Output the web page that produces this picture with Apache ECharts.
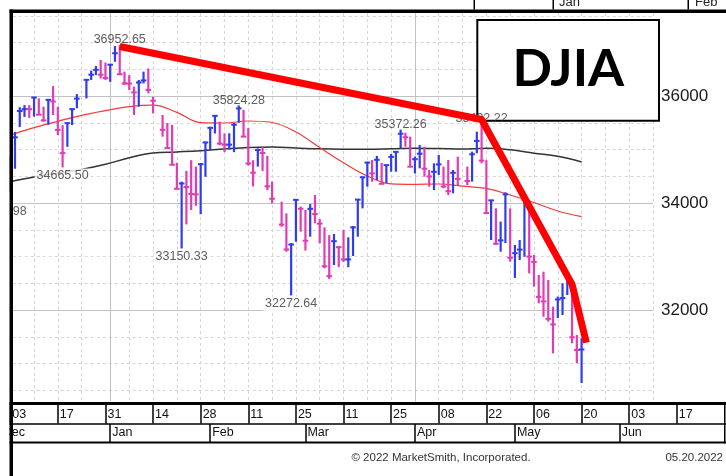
<!DOCTYPE html>
<html><head><meta charset="utf-8">
<script src="https://cdn.jsdelivr.net/npm/echarts@6/dist/echarts.min.js"></script>
<style>html,body{margin:0;padding:0;background:#fff}#c{width:726px;height:476px}</style>
</head><body><div id="c"></div>
<script>
// ---------- DATA ----------
const tradeDates = [
 '2021-12-01','2021-12-02','2021-12-03','2021-12-06','2021-12-07','2021-12-08','2021-12-09','2021-12-10','2021-12-13','2021-12-14','2021-12-15','2021-12-16','2021-12-17','2021-12-20','2021-12-21','2021-12-22','2021-12-23','2021-12-27','2021-12-28','2021-12-29','2021-12-30','2021-12-31',
 '2022-01-03','2022-01-04','2022-01-05','2022-01-06','2022-01-07','2022-01-10','2022-01-11','2022-01-12','2022-01-13','2022-01-14','2022-01-18','2022-01-19','2022-01-20','2022-01-21','2022-01-24','2022-01-25','2022-01-26','2022-01-27','2022-01-28','2022-01-31',
 '2022-02-01','2022-02-02','2022-02-03','2022-02-04','2022-02-07','2022-02-08','2022-02-09','2022-02-10','2022-02-11','2022-02-14','2022-02-15','2022-02-16','2022-02-17','2022-02-18','2022-02-22','2022-02-23','2022-02-24','2022-02-25','2022-02-28',
 '2022-03-01','2022-03-02','2022-03-03','2022-03-04','2022-03-07','2022-03-08','2022-03-09','2022-03-10','2022-03-11','2022-03-14','2022-03-15','2022-03-16','2022-03-17','2022-03-18','2022-03-21','2022-03-22','2022-03-23','2022-03-24','2022-03-25','2022-03-28','2022-03-29','2022-03-30','2022-03-31',
 '2022-04-01','2022-04-04','2022-04-05','2022-04-06','2022-04-07','2022-04-08','2022-04-11','2022-04-12','2022-04-13','2022-04-14','2022-04-18','2022-04-19','2022-04-20','2022-04-21','2022-04-22','2022-04-25','2022-04-26','2022-04-27','2022-04-28','2022-04-29',
 '2022-05-02','2022-05-03','2022-05-04','2022-05-05','2022-05-06','2022-05-09','2022-05-10','2022-05-11','2022-05-12','2022-05-13','2022-05-16','2022-05-17','2022-05-18','2022-05-19','2022-05-20'
];
const highs = [
 34950,34700,34850,35330,35790,35830,35830,35985,35955,35800,35945,36185,35800,35455,35500,35770,36035,36310,36475,36560,36675,36625,
 36595,36935,36952.65,36455,36390,36175,36300,36455,36515,35985,35645,35495,35460,34750,34400,34600,34800,34680,34745,35146,
 35426,35645,35520,35300,35303,35500,35824.28,35740,35400,34800,35020,35050,34880,34400,34025,33807,33250,34075,33935,
 33870,33980,34150,33700,33545,33400,33420,33196,33495,33358,33570,34070,34490,34772,34804,34879,34748,34710,34916,34960,35372.26,35314,35240,
 34866,35084,35052,34617,34742,34897,34680,34804,34617,34866,34680,34960,35333,35492.22,34800,34056,33900,33651,34200,33900,
 33215,33308,34118,34056,33028,32654,32716,32561,32062,32250,32500,32660,32500,31533,31470
];
const lows = [
 34006.98,34020,34220,34640,35420,35610,35590,35615,35645,35520,35460,35645,35270,34665.50,35050,35455,35770,35955,36300,36390,36330,36300,
 36265,36640,36395,36205,36110,35645,35800,36235,36050,35675,35240,35025,34710,34260,33150.33,33600,33870,33950,33790,34490,
 34990,35300,35080,34950,35000,34950,35500,35240,34700,34310,34680,34600,34243,33995,33557,33090,32272.64,33277,33465,
 33110,33370,33620,33246,32780,32580,32840,32800,32900,32800,33010,33370,33900,34305,34398,34430,34355,34374,34585,34585,35022,35052,34670,
 34554,34648,34492,34305,34243,34523,34275,34150,34181,34336,34336,34399,34929,34742,33807,33308,33215,33090,33250,32903,
 32600,32935,32997,32685,32437,32125,31875,31782,31190,31850,31907,32280,31378,31004,30635.76
];
const closes = [
 34022.04,34639.79,34580.08,35227.03,35719.43,35754.75,35754.69,35970.99,35650.95,35544.18,35927.43,35897.64,35365.44,34932.16,35492.70,35753.89,35950.56,36302.38,36398.21,36488.63,36398.08,36338.30,
 36585.06,36799.65,36407.11,36236.47,36231.66,36068.87,36252.02,36290.32,36113.62,35911.81,35368.47,35028.65,34715.39,34265.37,34364.50,34297.73,34168.09,34160.78,34725.47,35131.86,
 35405.24,35629.33,35111.16,35089.74,35091.13,35462.78,35768.06,35241.59,34738.06,34566.17,34988.84,34934.27,34312.03,34079.18,33596.61,33131.76,33223.83,34058.75,33892.60,
 33294.95,33891.35,33794.66,33614.80,32817.38,32632.64,33286.25,33174.07,32944.19,32945.24,33544.34,34063.10,34480.76,34754.93,34552.99,34807.46,34358.50,34707.94,34861.24,34955.89,35294.19,35228.81,34678.35,
 34818.27,34921.88,34641.18,34496.51,34583.57,34721.12,34308.08,34220.36,34564.59,34451.23,34411.69,34911.20,35160.79,34792.76,33811.40,34049.46,33240.18,33301.93,34160.78,32977.21,
 33061.50,33128.79,34061.06,32997.97,32899.37,32245.70,32160.74,31834.11,31730.30,32196.66,32223.42,32654.59,31490.07,31253.13,31261.90
];
// moving averages (weekly samples)
const maDates = ['2021-12-03','2021-12-10','2021-12-17','2021-12-24','2021-12-31','2022-01-07','2022-01-14','2022-01-21','2022-01-28','2022-02-04','2022-02-11','2022-02-18','2022-02-25','2022-03-04','2022-03-11','2022-03-18','2022-03-25','2022-04-01','2022-04-08','2022-04-15','2022-04-22','2022-04-29','2022-05-06','2022-05-13','2022-05-20'];
const ma50 = [35271,35410,35527,35639,35727,35802,35828,35695,35501,35495,35533,35505,35327,35037,34753,34505,34359,34350,34355,34314,34273,34150,34009,33850,33744];
const ma200 = [34400,34488,34559,34628,34723,34845,34935,34955,34978,35011,35039,35047,35028,35013,35007,35006,35013,35022,35017,35009,35022,34994,34931,34873,34768];
// annotated highs / lows
const noteDates = ['2021-12-01','2021-12-20','2022-01-05','2022-01-24','2022-02-09','2022-02-24','2022-03-29','2022-04-21'];
const noteValues = [34006.98,34665.50,36952.65,33150.33,35824.28,32272.64,35372.26,35492.22];
const noteSide = ['low','low','high','low','high','low','high','high'];
// hand-drawn trend line
const trendDates = ['2022-01-05','2022-04-21','2022-05-18','2022-05-23'];
const trendValues = [36925,35560,32480,31390];
// axis labels / grid
const dayTicks = ['2021-12-03','2021-12-17','2021-12-31','2022-01-14','2022-01-28','2022-02-11','2022-02-25','2022-03-11','2022-03-25','2022-04-08','2022-04-22','2022-05-06','2022-05-20','2022-06-03','2022-06-17'];
const monthTicks = ['2021-12-01','2022-01-03','2022-02-01','2022-03-01','2022-04-01','2022-05-02','2022-06-01'];
const monthNames = ['Dec','Jan','Feb','Mar','Apr','May','Jun'];
const weekLines = ['2021-12-03','2021-12-10','2021-12-17','2021-12-24','2022-01-07','2022-01-14','2022-01-21','2022-01-28','2022-02-04','2022-02-11','2022-02-18','2022-02-25','2022-03-04','2022-03-11','2022-03-18','2022-03-25','2022-04-08','2022-04-15','2022-04-22','2022-04-29','2022-05-06','2022-05-13','2022-05-20','2022-05-27','2022-06-03','2022-06-10'];
const quarterLines = ['2022-01-03','2022-04-01'];
const priceTicksMajor = 2000, priceTicksMinor = 500;

// ---------- BUILD ----------
function weekdays(a, b) {
  const out = [], d = new Date(a + 'T00:00:00Z'), e = new Date(b + 'T00:00:00Z');
  while (d <= e) { const w = d.getUTCDay(); if (w > 0 && w < 6) out.push(d.toISOString().slice(0, 10)); d.setUTCDate(d.getUTCDate() + 1); }
  return out;
}
const priceCats = weekdays('2021-12-01', '2022-06-10');
const dateCats = weekdays('2021-12-01', '2022-07-01');
const idx = d => priceCats.indexOf(d);
const FONT = '"Liberation Sans", Arial, sans-serif';
const BLUE = '#2f3cf0', PINK = '#e23cb4';
const daySet = new Set(dayTicks), monthSet = new Set(monthTicks);
const weekSet = new Set(weekLines), quarterSet = new Set(quarterLines);

const bars = tradeDates.map((d, i) => [idx(d), highs[i], lows[i], closes[i], (i > 0 && closes[i] > closes[i - 1]) ? 1 : 0]);

const chart = echarts.init(document.getElementById('c'));
chart.setOption({
  animation: false,
  backgroundColor: '#fff',
  grid: [
    { left: 0.7, top: -11, width: 652.3, height: 428, containLabel: false, outerBoundsMode: 'none' },
    { left: 0.7, top: 405, width: 723.7, height: 18.5, containLabel: false, outerBoundsMode: 'none' },
    { left: 0.7, top: 424, width: 723.7, height: 18, containLabel: false, outerBoundsMode: 'none' }
  ],
  xAxis: [
    { gridIndex: 0, type: 'category', data: priceCats, boundaryGap: false, axisLine: { show: false }, axisTick: { show: false }, axisLabel: { show: false },
      splitLine: { show: true, interval: (i, v) => weekSet.has(v), lineStyle: { color: '#d6d6d6', width: 1, type: [3, 3] } } },
    { gridIndex: 0, type: 'category', data: priceCats, boundaryGap: false, axisLine: { show: false }, axisTick: { show: false }, axisLabel: { show: false },
      splitLine: { show: true, interval: (i, v) => quarterSet.has(v), lineStyle: { color: '#c2c2c2', width: 1 } } },
    { gridIndex: 1, type: 'category', data: dateCats, boundaryGap: false, z: 120, axisLine: { show: false }, axisTick: { show: false },
      splitLine: { show: true, interval: (i, v) => daySet.has(v), lineStyle: { color: '#000', width: 1.5 } },
      axisLabel: { show: true, interval: (i, v) => daySet.has(v), inside: true, margin: 9, verticalAlign: 'middle', align: 'left', padding: [0, 0, 0, 2],
        formatter: v => v.slice(8, 10), fontFamily: FONT, fontSize: 12.5, color: '#111' } },
    { gridIndex: 2, type: 'category', data: dateCats, boundaryGap: false, z: 120, axisLine: { show: false }, axisTick: { show: false },
      splitLine: { show: true, interval: (i, v) => monthSet.has(v), lineStyle: { color: '#000', width: 1.5 } },
      axisLabel: { show: true, interval: (i, v) => monthSet.has(v), inside: true, margin: 9.5, verticalAlign: 'middle', align: 'left', padding: [0, 0, 0, 2],
        formatter: v => monthNames[monthTicks.indexOf(v)], fontFamily: FONT, fontSize: 12.5, color: '#111' } }
  ],
  yAxis: [
    { gridIndex: 0, type: 'value', position: 'left', min: 30000, max: 38000, interval: priceTicksMinor, axisLine: { show: false }, axisTick: { show: false }, axisLabel: { show: false },
      splitLine: { show: true, lineStyle: { color: '#d6d6d6', width: 1, type: [3, 3] } } },
    { gridIndex: 0, type: 'value', position: 'right', min: 30000, max: 38000, interval: priceTicksMajor, axisLine: { show: false }, axisTick: { show: false },
      splitLine: { show: true, lineStyle: { color: '#c2c2c2', width: 1 } },
      axisLabel: { show: true, margin: 8, padding: [0, 0, 4, 0], fontFamily: FONT, fontSize: 17, color: '#1a1a1a', formatter: v => (v === 30000 || v === 38000) ? '' : String(v) } },
    { gridIndex: 1, type: 'value', show: false },
    { gridIndex: 2, type: 'value', show: false }
  ],
  series: [
    { type: 'line', xAxisIndex: 0, yAxisIndex: 0, z: 2, symbol: 'none', smooth: 0.4, data: maDates.map((d, i) => [idx(d), ma200[i]]),
      lineStyle: { color: '#333', width: 1.5 } },
    { type: 'line', xAxisIndex: 0, yAxisIndex: 0, z: 2, symbol: 'none', smooth: 0.4, data: maDates.map((d, i) => [idx(d), ma50[i]]),
      lineStyle: { color: '#f23a3a', width: 1.2 } },
    { type: 'custom', xAxisIndex: 0, yAxisIndex: 0, z: 3, data: bars, encode: { x: 0, y: [1, 2, 3] },
      renderItem: (params, api) => {
        const x = api.value(0);
        const pH = api.coord([x, api.value(1)]), pL = api.coord([x, api.value(2)]), pC = api.coord([x, api.value(3)]);
        const col = api.value(4) ? BLUE : PINK;
        return { type: 'group', children: [
          { type: 'line', shape: { x1: pH[0], y1: pH[1], x2: pL[0], y2: pL[1] }, style: { stroke: col, lineWidth: 2.2 } },
          { type: 'line', shape: { x1: pC[0] - 2.8, y1: pC[1], x2: pC[0] + 2.8, y2: pC[1] }, style: { stroke: col, lineWidth: 2 } }
        ] };
      } },
    { type: 'scatter', xAxisIndex: 0, yAxisIndex: 0, z: 4, clip: false, symbolSize: 1, itemStyle: { color: 'rgba(0,0,0,0)' },
      data: noteDates.map((d, i) => ({ value: [idx(d), noteValues[i]],
        label: { offset: [0, noteSide[i] === 'high' ? -5 : 8.5], backgroundColor: noteSide[i] === 'low' ? '#fff' : 'rgba(255,255,255,0)' } })),
      label: { show: true, position: 'inside', formatter: p => noteValues[p.dataIndex].toFixed(2), fontFamily: FONT, fontSize: 12.5, color: '#333', padding: [1, 2] } },
    { type: 'line', xAxisIndex: 0, yAxisIndex: 0, z: 5, symbol: 'none', data: trendDates.map((d, i) => [idx(d), trendValues[i]]),
      lineStyle: { color: '#ff0000', width: 7, join: 'round' } }
  ],
  graphic: [
    // DJIA box
    { type: 'rect', z: 1, shape: { x: 477.3, y: 20, width: 181.7, height: 100.7 }, style: { fill: '#fff', stroke: '#000', lineWidth: 2 } },
    { type: 'text', z: 1, x: 568.3, y: 69, style: { text: 'DJIA', font: 'bold 52px Lato, "Open Sans", sans-serif', fill: '#000', align: 'center', verticalAlign: 'middle' } },
    // clip covers
    { type: 'rect', z: 125, shape: { x: 0, y: 0, width: 9.5, height: 476 }, style: { fill: '#fff' } },
    { type: 'rect', z: 100, shape: { x: 0, y: 0, width: 726, height: 9.5 }, style: { fill: '#fff' } },
    { type: 'rect', z: 100, shape: { x: 0, y: 401.5, width: 726, height: 75 }, style: { fill: '#fff' } },
    // borders
    { type: 'rect', z: 130, shape: { x: 9.5, y: 9.5, width: 3.5, height: 467 }, style: { fill: '#000' } },
    { type: 'rect', z: 130, shape: { x: 9.5, y: 9.5, width: 716.5, height: 3.5 }, style: { fill: '#000' } },
    { type: 'rect', z: 130, shape: { x: 9.5, y: 402, width: 716.5, height: 3 }, style: { fill: '#000' } },
    { type: 'rect', z: 130, shape: { x: 9.5, y: 423.2, width: 716.5, height: 1.5 }, style: { fill: '#000' } },
    { type: 'rect', z: 130, shape: { x: 9.5, y: 441.5, width: 716.5, height: 2 }, style: { fill: '#000' } },
    { type: 'rect', z: 130, shape: { x: 724, y: 402, width: 1.5, height: 41.5 }, style: { fill: '#000' } },
    // header remnants above the frame
    { type: 'rect', z: 130, shape: { x: 473.5, y: 0, width: 1.5, height: 9.5 }, style: { fill: '#000' } },
    { type: 'rect', z: 130, shape: { x: 552.5, y: 0, width: 1.5, height: 9.5 }, style: { fill: '#000' } },
    { type: 'rect', z: 130, shape: { x: 687.5, y: 0, width: 1.5, height: 9.5 }, style: { fill: '#000' } },
    { type: 'text', z: 130, x: 559, y: 2, style: { text: 'Jan', font: '13px ' + FONT, fill: '#222', verticalAlign: 'middle' } },
    { type: 'text', z: 130, x: 695, y: 2, style: { text: 'Feb', font: '13px ' + FONT, fill: '#222', verticalAlign: 'middle' } },
    // footer
    { type: 'text', z: 130, x: 441, y: 458, style: { text: '© 2022 MarketSmith, Incorporated.', font: '11.5px ' + FONT, fill: '#333', align: 'center', verticalAlign: 'middle' } },
    { type: 'text', z: 130, x: 723, y: 458, style: { text: '05.20.2022', font: '11.5px ' + FONT, fill: '#333', align: 'right', verticalAlign: 'middle' } }
  ]
});
</script></body></html>
